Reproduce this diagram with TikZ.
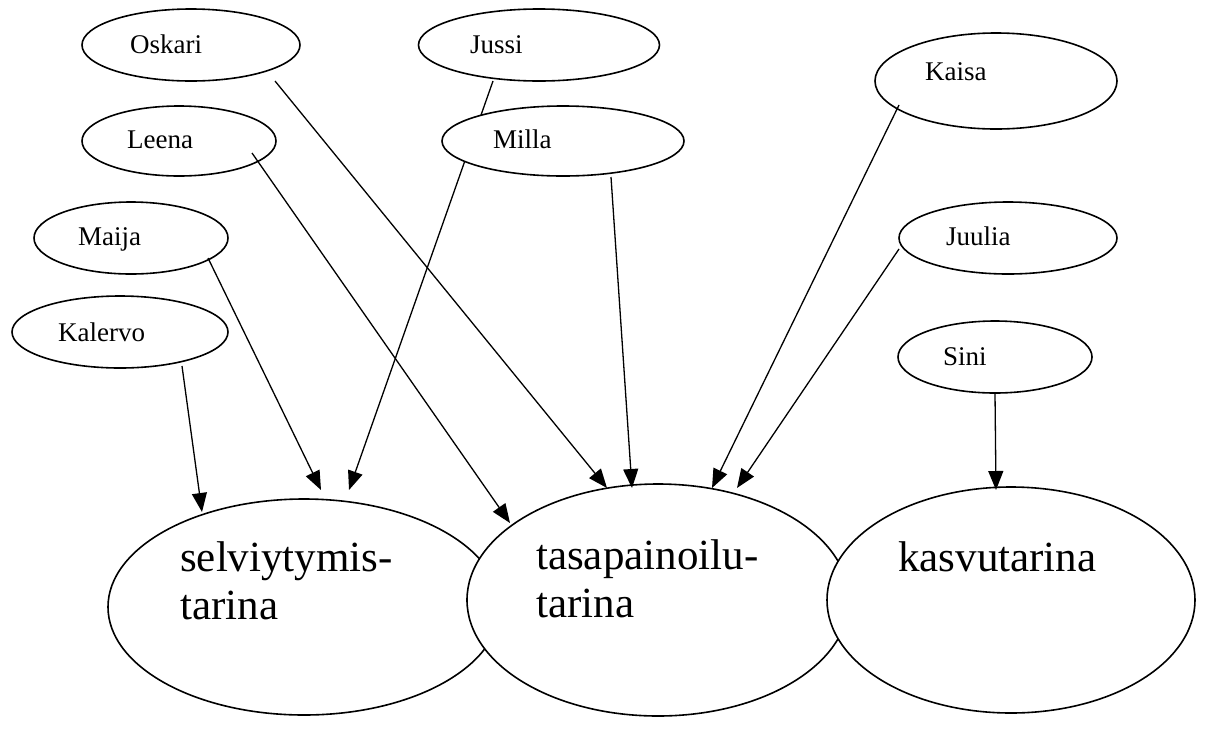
\documentclass[tikz,border=0pt]{standalone}
\usepackage{fontspec}
\setmainfont{Liberation Serif}
\usetikzlibrary{shapes.geometric,arrows.meta,calc}
\begin{document}
\begin{tikzpicture}[x=1pt,y=-1pt,
  ell/.style={ellipse, draw, line width=1.6pt, fill=white, inner sep=0pt},
  nametext/.style={anchor=base west, inner sep=0pt, font=\fontsize{27}{32}\selectfont},
  bigtext/.style={anchor=north west, inner sep=0pt, align=left, font=\fontsize{43}{48}\selectfont},
  arr/.style={line width=1.3pt, -{Triangle[length=19pt,width=15pt]}}]
\useasboundingbox (0,0) rectangle (1207,729);
% big ellipses
\node[ell, minimum width=392pt, minimum height=216pt] (selv) at (304,607) {};
\node[ell, minimum width=382pt, minimum height=232pt] (tasa) at (658,600) {};
\node[ell, minimum width=368pt, minimum height=226pt] (kasvu) at (1011,600) {};
\node[bigtext] (selvT) at (180,541) {selviytymis-\\tarina};
\node[bigtext] (tasaT) at (536,539) {tasapainoilu-\\tarina};
\node[bigtext] (kasvuT) at (898,541) {kasvutarina};
% small ellipses
\node[ell, minimum width=218pt, minimum height=72pt] (oskari) at (191,45) {};
\node[ell, minimum width=241pt, minimum height=72pt] (jussi) at (539,45) {};
\node[ell, minimum width=194pt, minimum height=70pt] (leena) at (179,141) {};
\node[ell, minimum width=242pt, minimum height=96pt] (kaisa) at (996,81) {};
\node[ell, minimum width=194pt, minimum height=72pt] (maija) at (131,238) {};
\node[ell, minimum width=218pt, minimum height=72pt] (juulia) at (1008,238) {};
\node[ell, minimum width=216pt, minimum height=72pt] (kalervo) at (120,332) {};
\node[ell, minimum width=194pt, minimum height=72pt] (sini) at (995,357) {};
% Jussi's connector runs behind Milla
\draw[arr] ($(jussi.center)+(-46,36)$) -- ($(selv.center)+(45,-117)$);
\node[ell, minimum width=242pt, minimum height=70pt] (milla) at (563,141) {};
% names
\node[nametext] (oskariT) at (130,53) {Oskari};
\node[nametext] (jussiT) at (470,53) {Jussi};
\node[nametext] (leenaT) at (127,148) {Leena};
\node[nametext] (millaT) at (493,148) {Milla};
\node[nametext] (kaisaT) at (925,80) {Kaisa};
\node[nametext] (maijaT) at (78,245) {Maija};
\node[nametext] (juuliaT) at (946,245) {Juulia};
\node[nametext] (kalervoT) at (58,341) {Kalervo};
\node[nametext] (siniT) at (943,365) {Sini};
% connectors
\draw[arr] ($(oskari.center)+(84,36)$) -- ($(tasa.center)+(-51,-112)$);
\draw[arr] ($(leena.center)+(73,12)$) -- ($(tasa.center)+(-148,-77)$);
\draw[arr] ($(maija.center)+(77,20)$) -- ($(selv.center)+(17,-117)$);
\draw[arr] ($(kalervo.center)+(62,34)$) -- ($(selv.center)+(-102,-95)$);
\draw[arr] ($(milla.center)+(48,36)$) -- ($(tasa.center)+(-26,-112)$);
\draw[arr] ($(kaisa.center)+(-97,24)$) -- ($(tasa.center)+(54,-112)$);
\draw[arr] ($(juulia.center)+(-109,11)$) -- ($(tasa.center)+(79,-112)$);
\draw[arr] ($(sini.center)+(0,36)$) -- ($(kasvu.center)+(-15,-110)$);
\end{tikzpicture}
\end{document}
